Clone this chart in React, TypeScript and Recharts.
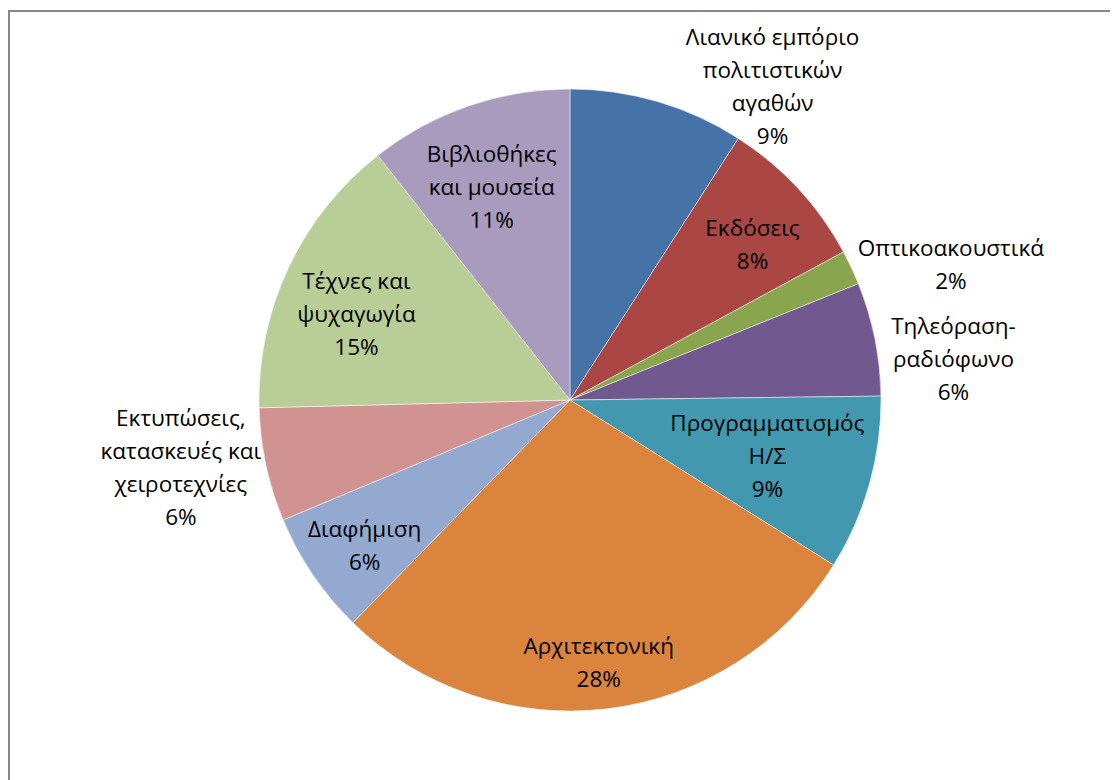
import { PieChart, Pie, Cell } from 'recharts';

// Κατηγορίες (με αλλαγές γραμμής όπως στο πρωτότυπο)
const CATEGORIES = [
    'Λιανικό εμπόριο\nπολιτιστικών\nαγαθών',
    'Εκδόσεις',
    'Οπτικοακουστικά',
    'Τηλεόραση-\nραδιόφωνο',
    'Προγραμματισμός\nΗ/Σ',
    'Αρχιτεκτονική',
    'Διαφήμιση',
    'Εκτυπώσεις,\nκατασκευές και\nχειροτεχνίες',
    'Τέχνες και\nψυχαγωγία',
    'Βιβλιοθήκες\nκαι μουσεία',
];
const VALUES = [9.1, 8.0, 1.8, 5.9, 9.1, 28.4, 6.4, 5.9, 14.8, 10.6];
const COLORS = ['#4572A7', '#AA4643', '#89A54E', '#71588F', '#4198AF', '#DB843D', '#93A9CF', '#D19392', '#B9CD96', '#A99BBD'];

// label placement: radius factor + angle shift (deg, clockwise)
const LABEL_POS = [
    { rf: 1.20, shift: 16.5 },
    { rf: 0.77, shift: 2.5 },
    { rf: 1.30, shift: 5.6 },
    { rf: 1.24, shift: 5.3 },
    { rf: 0.66, shift: 0.25 },
    { rf: 0.85, shift: 0.6 },
    { rf: 0.81, shift: -1.2 },
    { rf: 1.27, shift: 2.2 },
    { rf: 0.74, shift: -3.3 },
    { rf: 0.73, shift: -1.1 },
];

const data = CATEGORIES.map((name, i) => ({ name, value: VALUES[i] }));

const RAD = Math.PI / 180;
const LINE_H = 33;

const renderLabel = ({ cx, cy, midAngle, outerRadius, index, percent }: any) => {
    const pos = LABEL_POS[index];
    const ang = midAngle - pos.shift;
    const r = outerRadius * pos.rf;
    const x = cx + r * Math.cos(-ang * RAD);
    const y = cy + r * Math.sin(-ang * RAD);
    const lines = [...CATEGORIES[index].split('\n'), `${Math.round(percent * 100)}%`];
    const top = y - ((lines.length - 1) * LINE_H) / 2;
    return (
        <text textAnchor="middle" fill="#000" style={{ fontFamily: '"Open Sans", sans-serif', fontSize: 22.5 }}>
            {lines.map((l, i) => (
                <tspan key={i} x={x} y={top + i * LINE_H + 8}>{l}</tspan>
            ))}
        </text>
    );
};

export default function App() {
    return (
        <div style={{ position: 'relative', width: 1110, height: 772, overflow: 'hidden' }}>
            <div style={{ position: 'absolute', left: 0, top: 2, width: 1300, height: 900, borderTop: '2px solid #888', borderLeft: '2px solid #888' }} />
            <div style={{ position: 'absolute', left: 0, top: 0 }}>
                <PieChart width={1110} height={772} margin={{ top: 0, right: 0, bottom: 0, left: 0 }}>
                    <Pie data={data} dataKey="value" cx={562} cy={392} outerRadius={311}
                        startAngle={90} endAngle={-270} label={renderLabel} labelLine={false}
                        stroke="#ffffff" strokeWidth={0.5} isAnimationActive={false}>
                        {data.map((d, i) => <Cell key={i} fill={COLORS[i]} />)}
                    </Pie>
                </PieChart>
            </div>
        </div>
    );
}
